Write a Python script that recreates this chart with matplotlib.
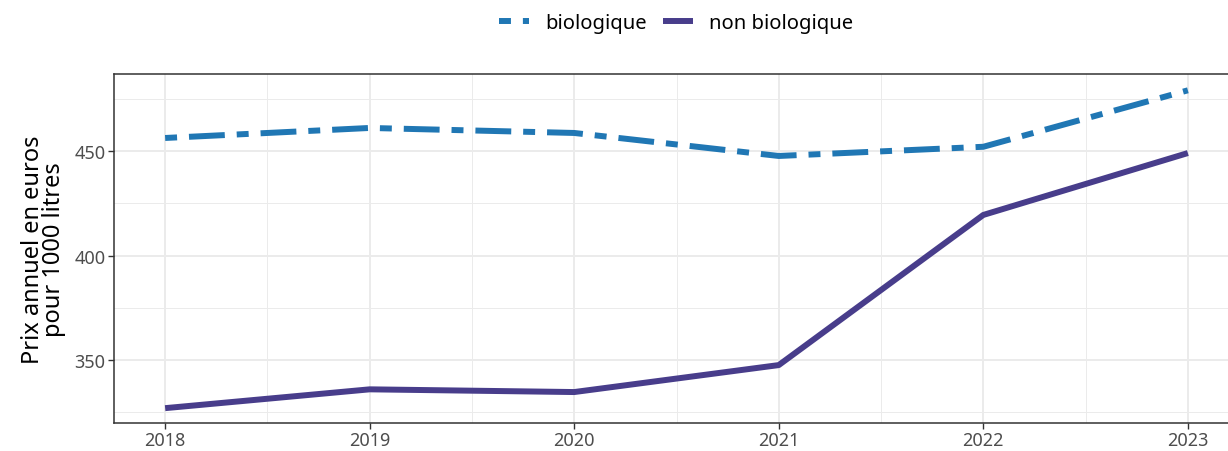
import matplotlib.pyplot as plt
from matplotlib.ticker import MultipleLocator

plt.rcParams['font.family'] = ['Noto Sans', 'DejaVu Sans']

annees = [2018, 2019, 2020, 2021, 2022, 2023]
bio = [456.2, 461.0, 458.6, 447.6, 452.0, 479.0]
non_bio = [327.0, 336.0, 334.7, 347.6, 419.4, 449.0]

fig = plt.figure(figsize=(12.28, 4.52), dpi=100)
ax = fig.add_axes([114 / 1228, 1 - 424 / 452, 1125 / 1228, 349 / 452])

lw = 4.3
ax.plot(annees, bio, color='#2077b4', lw=lw, dashes=(2, 2, 6, 2),
        dash_capstyle='butt', label='biologique', zorder=3)
ax.plot(annees, non_bio, color='#483d8b', lw=lw, solid_capstyle='butt',
        label='non biologique', zorder=3)

ax.set_xlim(2017.75, 2023.25)
ax.set_ylim(319.9, 486.8)
ax.xaxis.set_major_locator(MultipleLocator(1))
ax.xaxis.set_minor_locator(MultipleLocator(0.5))
ax.yaxis.set_major_locator(MultipleLocator(50))
ax.yaxis.set_minor_locator(MultipleLocator(25))
ax.grid(which='major', color='#ebebeb', lw=1.4, zorder=0)
ax.grid(which='minor', color='#ebebeb', lw=0.7, zorder=0)
ax.set_axisbelow(True)
ax.tick_params(which='major', length=4, width=1, color='#333333',
               labelcolor='#4d4d4d', labelsize=13, pad=2)
ax.tick_params(which='minor', length=0)
for s in ax.spines.values():
    s.set_color('#333333')
    s.set_linewidth(1.1)

ax.set_ylabel('Prix annuel en euros\npour 1000 litres', fontsize=17,
              color='black', labelpad=6, linespacing=0.85)

# legend centred on the panel (panel runs past the right edge)
leg = fig.legend(loc='upper center', bbox_to_anchor=(676 / 1228, 1.01), ncol=2,
                 frameon=False, fontsize=14.5, handlelength=1.5,
                 columnspacing=0.8, handletextpad=0.8)

fig.savefig('out.png', dpi=100)
